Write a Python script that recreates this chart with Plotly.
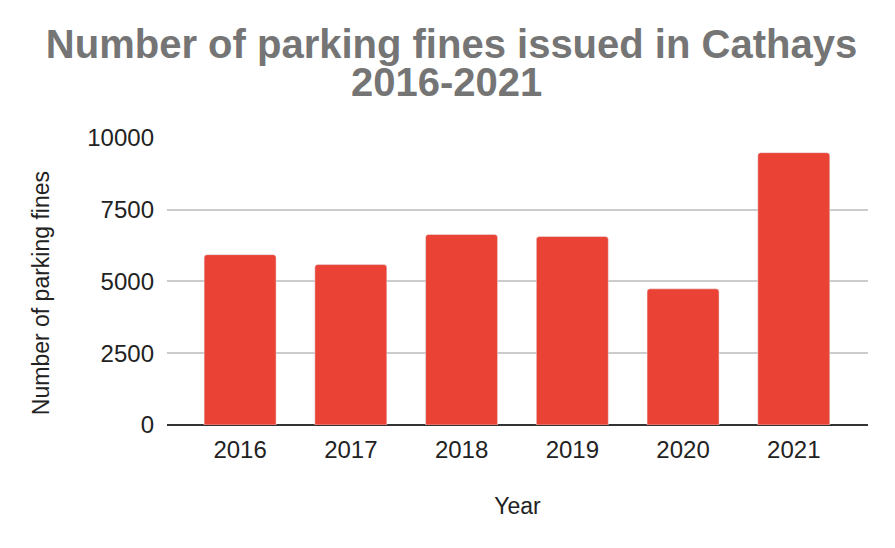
import plotly.graph_objects as go

# values
years = ["2016", "2017", "2018", "2019", "2020", "2021"]
fines = [5930, 5585, 6630, 6560, 4740, 9480]

bar_color = "#ea4335"

# page body has an 8px margin, so the figure is a bit smaller than the window
W, H = 887, 540

fig = go.Figure(go.Bar(
    x=years,
    y=fines,
    marker=dict(color=bar_color, cornerradius=3),
    hoverinfo="x+y",
))

fig.update_layout(
    width=W,
    height=H,
    margin=dict(l=159, r=27, t=129, b=123),
    paper_bgcolor="white",
    plot_bgcolor="white",
    bargap=0.35,
    showlegend=False,
    font=dict(family="Liberation Sans, Arial, sans-serif", color="#222222", size=24),
    title=dict(
        text="<b>Number of parking fines issued in Cathays</b>",
        x=0.5, xanchor="center",
        y=1 - 36 / H, yref="container", yanchor="middle",
        font=dict(size=40, color="#757575"),
    ),
    xaxis=dict(
        title=dict(text="Year", standoff=35, font=dict(size=23)),
        range=[-0.66, 5.67],
        showgrid=False,
        showline=False,
        ticks="",
        ticklabelstandoff=8,
    ),
    yaxis=dict(
        range=[0, 10025],
        tickvals=[0, 2500, 5000, 7500, 10000],
        tickformat="d",
        showgrid=True,
        gridcolor="#cccccc",
        gridwidth=1.5,
        zeroline=True,
        zerolinecolor="#333333",
        zerolinewidth=2,
        ticks="",
        ticklabelstandoff=12,
    ),
)

# second title line, set tighter than plotly's own line spacing
fig.add_annotation(
    text="<b>2016-2021</b>",
    xref="paper", yref="paper",
    x=(446 - 167) / 701, y=1 + (137 - 82) / 287.7,
    xanchor="center", yanchor="middle",
    showarrow=False,
    font=dict(size=40, color="#757575"),
)

# y axis title, sits a little below the plot's middle in the reference
fig.add_annotation(
    text="Number of parking fines",
    xref="paper", yref="paper",
    x=(41 - 167) / 701, y=(424.7 - 293) / 287.7,
    xanchor="center", yanchor="middle",
    textangle=-90,
    showarrow=False,
    font=dict(size=23, color="#222222"),
)

fig.write_html("out.html")
